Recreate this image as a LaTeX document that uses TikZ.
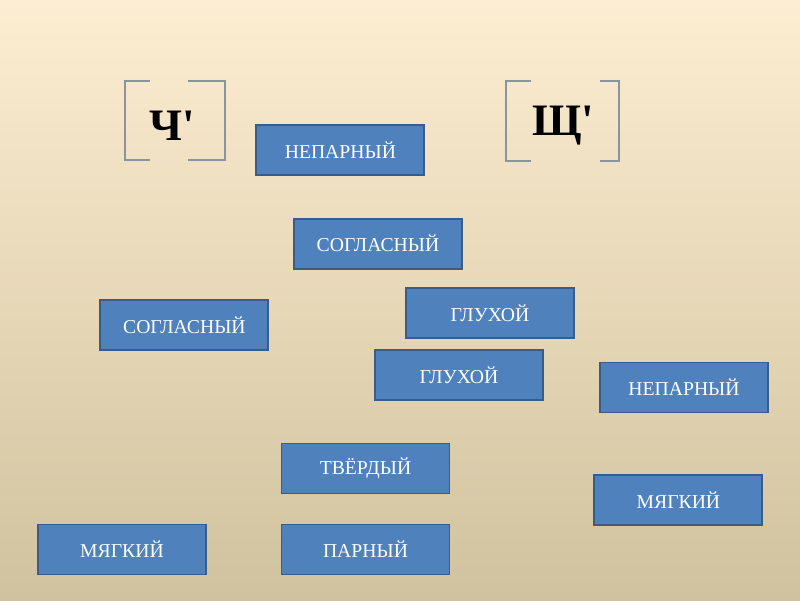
\documentclass[tikz,border=0pt]{standalone}
\usepackage{fontspec}
\setmainfont{Liberation Serif}
\newfontfamily\soundfont{Liberation Serif}[Ligatures=TeXOff]
\definecolor{bgtop}{HTML}{FDEDD2}
\definecolor{bgbot}{HTML}{D0C29E}
\definecolor{boxfill}{HTML}{4F81BD}
\definecolor{boxline}{HTML}{385D8A}
\definecolor{brack}{HTML}{8A949E}
\begin{document}
\begin{tikzpicture}[
    card/.style={draw=boxline, line width=1.4pt, fill=boxfill, text=white,
      minimum width=4.2cm, minimum height=1.25cm, font=\fontsize{14}{16}\selectfont},
    sound/.style={font=\soundfont\bfseries\fontsize{32}{38}\selectfont},
    bracket/.style={draw=brack, line width=1pt}]
      \shade[top color=bgtop, bottom color=bgbot] (0,0) rectangle (20,15);
      \useasboundingbox (0,0) rectangle (20,15);

      % the two sounds
      \node[sound] (ch) at (4.30,11.85) {Ч'};
      \draw[bracket] (3.75,12.975) -- (3.125,12.975) -- (3.125,11.0) -- (3.75,11.0);
      \draw[bracket] (4.70,12.975) -- (5.625,12.975) -- (5.625,11.0) -- (4.70,11.0);
      \node[sound] (shch) at (14.075,11.85) {Щ'};
      \draw[bracket] (13.275,12.975) -- (12.65,12.975) -- (12.65,10.975) -- (13.275,10.975);
      \draw[bracket] (15.0,12.975) -- (15.475,12.975) -- (15.475,10.975) -- (15.0,10.975);

      % cards
      \node[card] (unpairedA) at (8.51,11.24) {НЕПАРНЫЙ};
      \node[card] (consA) at (9.45,8.91) {СОГЛАСНЫЙ};
      \node[card] (consB) at (4.61,6.875) {СОГЛАСНЫЙ};
      \node[card] (voicelessA) at (12.25,7.175) {ГЛУХОЙ};
      \node[card] (voicelessB) at (11.475,5.625) {ГЛУХОЙ};
      \node[card] (unpairedB) at (17.10,5.3125) {НЕПАРНЫЙ};
      \node[card] (hard) at (9.1375,3.2875) {ТВЁРДЫЙ};
      \node[card] (softA) at (16.96,2.50) {МЯГКИЙ};
      \node[card] (softB) at (3.05,1.2625) {МЯГКИЙ};
      \node[card] (paired) at (9.1375,1.2625) {ПАРНЫЙ};
    \end{tikzpicture}
\end{document}
